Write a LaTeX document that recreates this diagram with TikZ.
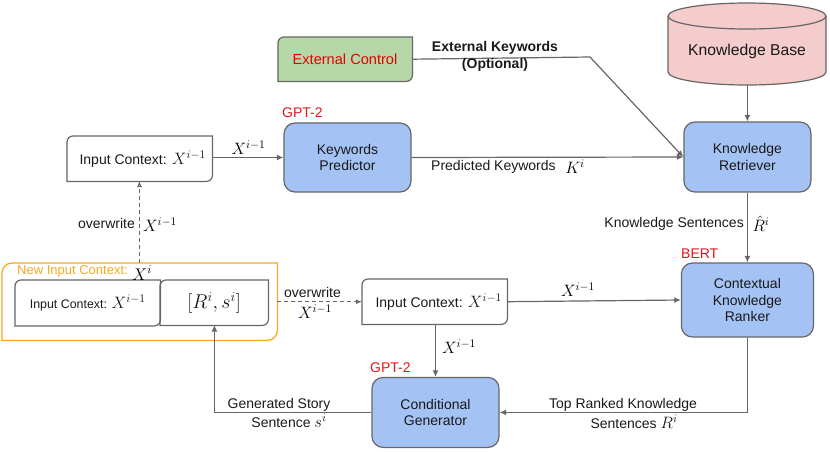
\RequirePackage{fix-cm}
\documentclass[tikz,border=0pt]{standalone}
\usepackage[no-math]{fontspec}
\setmainfont{Liberation Sans}
\usetikzlibrary{arrows.meta,shapes.geometric}
\definecolor{lineg}{HTML}{666666}
\definecolor{blueb}{HTML}{A4C2F4}
\definecolor{greenb}{HTML}{B6D7A8}
\definecolor{pinkb}{HTML}{F4CCCC}
\definecolor{orangeb}{HTML}{F9A825}
\definecolor{redt}{HTML}{E0141C}
\newcommand{\mth}[1]{{\fontsize{16.5}{17}\selectfont$#1$}}
\newcommand{\tsize}[1]{\fontsize{#1}{16.5}\selectfont}
\newcommand{\diagoutline}[3][6]{\path[#2] (#3.south west) [rounded corners=#1] -- (#3.north west) -- ([xshift=20pt]#3.north west) [sharp corners] -- (#3.north east) -- ([yshift=-20pt]#3.north east) [rounded corners=#1] -- (#3.south east) -- ([xshift=-20pt]#3.south east) [sharp corners] -- cycle;}
\tikzset{
  boxline/.style={draw=lineg,line width=1.2pt},
  conn/.style={draw=lineg,line width=1.2pt,-{Latex[length=6.5pt,width=6pt]}},
  dashconn/.style={draw=lineg,line width=1.1pt,dash pattern=on 4pt off 3pt,-{Latex[open,length=6pt,width=5pt]}},
  module/.style={boxline,fill=blueb,rounded corners=11,inner sep=0,align=center,font=\tsize{14},text=black!90},
  plainbox/.style={inner sep=0,anchor=north west,text=black!90},
  lab/.style={inner sep=0,align=center,font=\tsize{14},text=black!90},
  modeltag/.style={inner sep=0,font=\tsize{14},text=redt},
}
\begin{document}
\begin{tikzpicture}[x=1pt,y=-1pt]
\useasboundingbox (0,0) rectangle (830,451);
% knowledge base cylinder
\path[fill=pinkb,draw=lineg,line width=1.2pt] (668,16) -- (668,72) arc[start angle=180,end angle=0,x radius=79,y radius=13] -- (826,16) arc[start angle=0,end angle=-180,x radius=79,y radius=13] -- cycle;
\draw[boxline] (668,16) arc[start angle=180,end angle=0,x radius=79,y radius=13];
\coordinate (kbbottom) at (747.4,85);
\node[inner sep=0,font=\tsize{15.7},text=black!90] (kb) at (747,51) {Knowledge Base};
% external control
\node[plainbox,minimum width=134pt,minimum height=44pt] (ext) at (278,37) {};
\diagoutline{boxline,fill=greenb}{ext}
\node[inner sep=0,font=\tsize{14.6},text=red!90!black] (extlab) at (345,59.5) {External Control};
% modules
\node[module,minimum width=127pt,minimum height=69pt] (kp) at (347.5,157.5) {Keywords\\Predictor};
\node[module,minimum width=127pt,minimum height=70pt] (kr) at (747.4,157) {Knowledge\\Retriever};
\node[module,minimum width=132pt,minimum height=74pt] (rk) at (747.4,300) {Contextual\\Knowledge\\Ranker};
\node[module,minimum width=127pt,minimum height=70pt] (cg) at (435.5,412.4) {Conditional\\Generator};
% input contexts
\node[plainbox,minimum width=145pt,minimum height=45pt,font=\tsize{14}] (ic1) at (67,136) {\hspace{6pt}Input Context: \mth{X^{i-1}}};
\diagoutline{boxline}{ic1}
\node[plainbox,minimum width=145pt,minimum height=45pt,font=\tsize{14}] (ic2) at (362,279) {\hspace{8pt}Input Context: \mth{X^{i-1}}};
\diagoutline{boxline}{ic2}
% orange box
\node[plainbox,minimum width=275pt,minimum height=77pt] (newctx) at (2,263) {};
\diagoutline[10]{draw=orangeb,line width=1.3pt}{newctx}
\node[plainbox,minimum width=145pt,minimum height=45.5pt,font=\tsize{12.4}] (ic3) at (15,280) {Input Context: \mth{X^{i-1}}};
\diagoutline{boxline}{ic3}
\node[plainbox,minimum width=108pt,minimum height=45pt] (rs) at (160,280) {\fontsize{20}{22}\selectfont$[R^i,s^i]$};
\diagoutline{boxline}{rs}
\node[inner sep=0,anchor=west,font=\tsize{13},text=orangeb] (newlab) at (17,271) {New Input Context:};
\node[inner sep=0] (xi) at (142,273) {\fontsize{17}{19}\selectfont$X^i$};
% tags
\node[modeltag,anchor=west] (t1) at (282,113) {GPT-2};
\node[modeltag,anchor=west] (t2) at (681,254) {BERT};
\node[modeltag,anchor=west] (t3) at (370,368) {GPT-2};
% connectors
\coordinate (extbend) at (590,57);
\draw[conn] (ic1.east|-kp.west) -- (kp.west);
\draw[conn] (kp.east) -- (kr.west);
\draw[conn] (ext.east) -- (extbend) -- (kr.west);
\draw[conn] (kbbottom) -- (kr.north);
\draw[conn] (kr.south) -- (rk.north);
\draw[conn] (ic2.east) -- (rk.west);
\draw[conn] (ic2.south-|cg.north) -- (cg.north);
\coordinate (rkcorner) at (rk.south|-cg.east);
\draw[conn] (rk.south) -- (rkcorner) -- (cg.east);
\coordinate (cgcorner) at (214.4,412.4);
\coordinate (rsin) at (214.4,325);
\draw[conn] (cg.west) -- (cgcorner) -- (rsin);
\coordinate (ctxtop) at (139.4,263);
\coordinate (ic1foot) at (139.4,181);
\draw[dashconn] (newctx.east) -- (ic2.west);
\draw[dashconn] (ctxtop) -- (ic1foot);
% labels
\node[lab,font=\bfseries\tsize{14}] (l1) at (495,56.5) {External Keywords\\(Optional)};
\node[inner sep=0] (l2) at (248.5,148) {\mth{X^{i-1}}};
\node[lab,anchor=west] (l3) at (431,167) {Predicted Keywords};
\node[inner sep=0] (l4) at (575,167) {\mth{K^i}};
\node[lab] (l5) at (106.5,223) {overwrite};
\node[inner sep=0] (l6) at (160,225) {\mth{X^{i-1}}};
\node[lab,anchor=east] (l7) at (744,224) {Knowledge Sentences};
\node[inner sep=0] (l8) at (761,224) {\mth{\hat R^i}};
\node[inner sep=0] (l9) at (578,290) {\mth{X^{i-1}}};
\node[lab] (l10) at (312.5,292) {overwrite};
\node[inner sep=0] (l11) at (315,312) {\mth{X^{i-1}}};
\node[inner sep=0] (l12) at (459,347) {\mth{X^{i-1}}};
\node[lab] (l13) at (279,405) {Generated Story};
\node[lab] (l14) at (289,421) {Sentence \mth{s^i}};
\node[lab] (l15) at (623,405) {Top Ranked Knowledge};
\node[lab] (l16) at (634,422) {Sentences \mth{R^i}};
\end{tikzpicture}
\end{document}
